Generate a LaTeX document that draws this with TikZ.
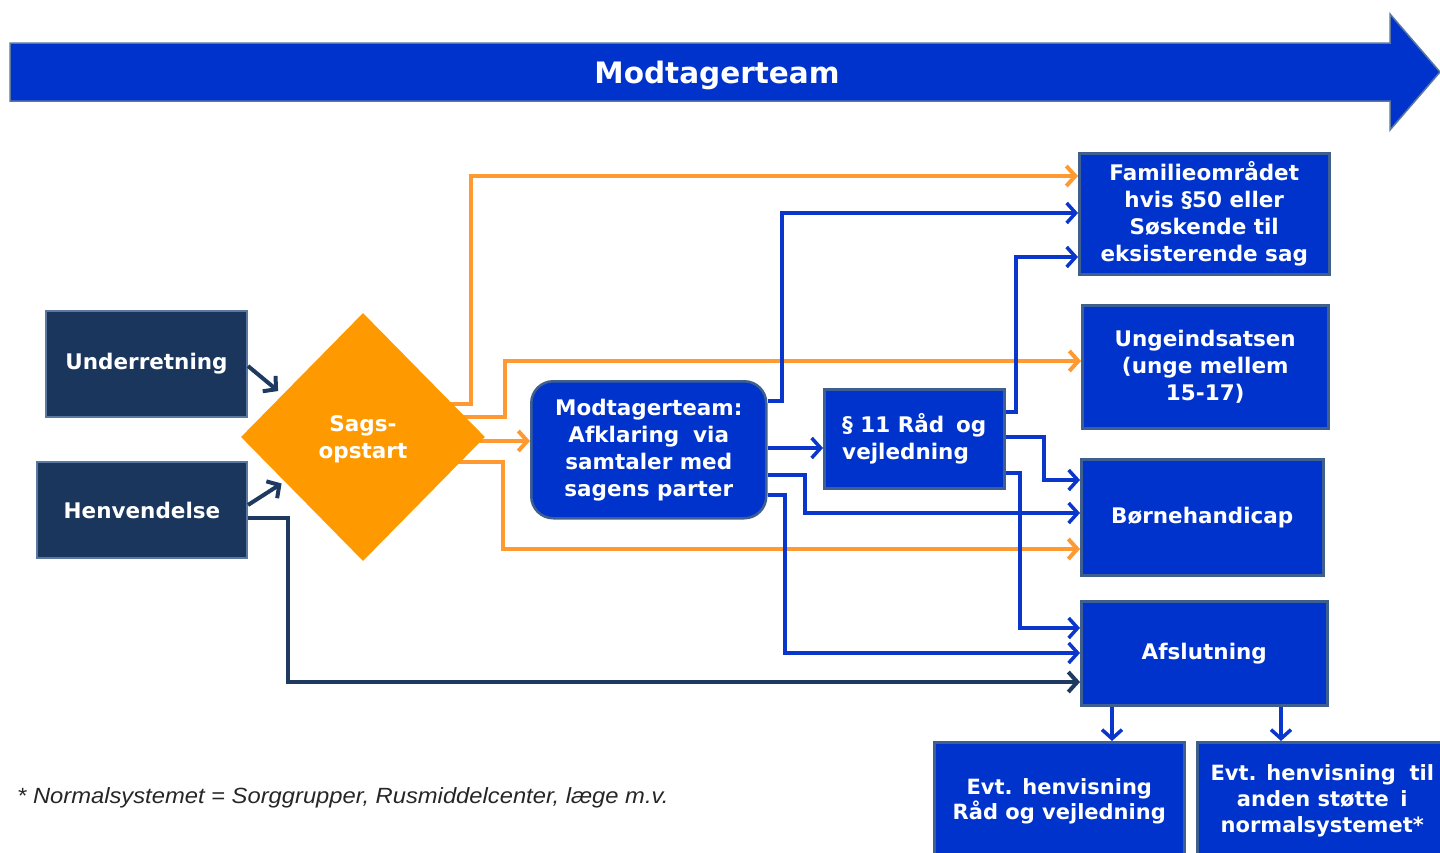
\documentclass[tikz,border=0pt]{standalone}
\usepackage{fontspec}
\setmainfont{DejaVu Sans}
\newfontfamily\footfont[FakeStretch=1.08]{Liberation Sans}
\usetikzlibrary{arrows.meta,shapes.geometric,backgrounds,calc}
\definecolor{navy}{HTML}{1B365D}
\definecolor{navyedge}{HTML}{5A78A0}
\definecolor{bblue}{HTML}{0033CC}
\definecolor{bedge}{HTML}{3F5F8F}
\definecolor{dorange}{HTML}{FF9900}
\definecolor{lorange}{HTML}{FF9A33}
\definecolor{lineblue}{HTML}{0A36CC}
\definecolor{linenavy}{HTML}{1F3A60}
\begin{document}
\begin{tikzpicture}[x=1pt,y=-1pt,
  txt/.style={text=white,font=\bfseries\fontsize{21.5}{27}\selectfont,align=center,inner sep=0pt},
  navybox/.style={txt,fill=navy,draw=navyedge,line width=2pt,anchor=north west},
  bluebox/.style={txt,fill=bblue,draw=bedge,line width=2.5pt,anchor=north west},
  tipped/.style={-{Straight Barb[length=9pt,width=20pt]}},
  oline/.style={tipped,draw=lorange,line width=4pt},
  bline/.style={tipped,draw=lineblue,line width=3.5pt},
  nline/.style={tipped,draw=linenavy,line width=4pt}]
\useasboundingbox (0,0) rectangle (1440,852);
% top arrow
\draw[fill=bblue,draw=navyedge,line width=1.5pt] (10,43) -- (1390,43) -- (1390,14) -- (1440,72) -- (1390,130) -- (1390,101) -- (10,101) -- cycle;
\node[font=\bfseries\fontsize{29.5}{32}\selectfont,text=white] (title) at (717,75) {Modtagerteam};
% nodes
\node[navybox,minimum width=201pt,minimum height=106pt] (und) at (45,310) {Underretning};
\node[navybox,minimum width=210pt,minimum height=96pt] (hen) at (36,461) {Henvendelse};
\node[diamond,fill=dorange,minimum width=244pt,minimum height=248pt,txt] (sag) at (363,437) {\rule{0pt}{21pt}Sags-\\opstart};
\node[bluebox,rounded corners=22pt,minimum width=235pt,minimum height=137pt] (mod) at (530,380) {Modtagerteam:\\Afklaring\hspace{0.3em} via\\samtaler med\\sagens parter};
\node[bluebox,align=left,minimum width=180pt,minimum height=99pt] (par) at (823,388) {§ 11 Råd\hspace{0.2em} og\\vejledning};
\node[bluebox,minimum width=250pt,minimum height=121pt] (fam) at (1078,152) {Familieområdet\\hvis §50 eller\\Søskende til\\eksisterende sag};
\node[bluebox,minimum width=246pt,minimum height=123pt] (ung) at (1081,304) {Ungeindsatsen\\(unge mellem\\15-17)};
\node[bluebox,minimum width=242pt,minimum height=116pt] (born) at (1080,458) {Børnehandicap};
\node[bluebox,minimum width=246pt,minimum height=104pt] (afs) at (1080,600) {Afslutning};
\node[bluebox,minimum width=250pt,minimum height=118pt,font=\bfseries\fontsize{21}{25}\selectfont] (evt1) at (933,741) {Evt. henvisning\\Råd og vejledning};
\node[bluebox,minimum width=250pt,minimum height=118pt,font=\bfseries\fontsize{21}{26}\selectfont] (evt2) at (1196,741) {Evt. henvisning\hspace{0.3em} til\\anden støtte\hspace{0.2em} i\\normalsystemet*};
\node[anchor=west,inner sep=0pt,font=\footfont\itshape\fontsize{22}{24}\selectfont,text=black!85] (note) at (17,798) {* Normalsystemet = Sorggrupper, Rusmiddelcenter, læge m.v.};
% connectors
\begin{scope}[on background layer]
\draw[oline] ([yshift=33pt]sag.center) -| (471,176) -- (fam.west |- 0,176);
\draw[oline] ([yshift=20pt]sag.center) -| (505,361) -- (ung.west |- 0,361);
\draw[oline] (sag.center |- 0,441) -- (mod.west |- 0,441);
\draw[oline] ([yshift=-25pt]sag.center) -| (503,549) -- (born.west |- 0,549);
\draw[bline] (mod.east |- 0,401) -| (782,213) -- (fam.west |- 0,213);
\draw[bline] (mod.east |- 0,448) -- (par.west |- 0,448);
\draw[bline] (mod.east |- 0,475) -| (805,513) -- (born.west |- 0,513);
\draw[bline] (mod.east |- 0,495) -| (785,653) -- (afs.west |- 0,653);
\draw[bline] (par.east |- 0,412) -| (1016,257) -- (fam.west |- 0,257);
\draw[bline] (par.east |- 0,437) -| (1044,480) -- (born.west |- 0,480);
\draw[bline] (par.east |- 0,473) -| (1020,628) -- (afs.west |- 0,628);
\draw[nline] (hen.east |- 0,518) -| (288,682) -- (afs.west |- 0,682);
\draw[bline] (afs.south -| 1112,0) -- (evt1.north -| 1112,0);
\draw[bline] (afs.south -| 1281,0) -- (evt2.north -| 1281,0);
\end{scope}
\draw[nline] ([yshift=-2pt]und.east) -- ($(sag.west)!0.33!(sag.north)+(-3,-5)$);
\draw[nline] ([yshift=5pt]hen.east) -- ($(sag.west)!0.35!(sag.south)+(-2,3)$);
\end{tikzpicture}
\end{document}
